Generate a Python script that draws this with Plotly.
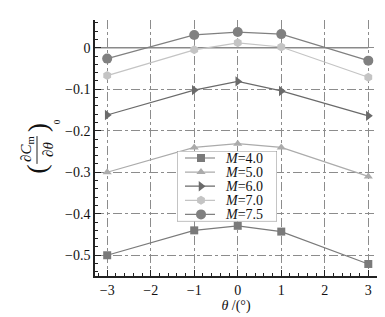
import plotly.graph_objects as go

theta = [-3, -1, 0, 1, 3]
m_labels = ["4.0", "5.0", "6.0", "7.0", "7.5"]
cm_m40 = [-0.500, -0.440, -0.429, -0.443, -0.521]
cm_m50 = [-0.300, -0.240, -0.231, -0.240, -0.310]
cm_m60 = [-0.162, -0.102, -0.081, -0.104, -0.164]
cm_m70 = [-0.067, -0.005, 0.012, 0.002, -0.071]
cm_m75 = [-0.026, 0.031, 0.038, 0.033, -0.031]
y_tickvals = [0, -0.1, -0.2, -0.3, -0.4, -0.5]
y_ticktext = ["0", "−0.1", "−0.2", "−0.3", "−0.4", "−0.5"]
x_tickvals = [-3, -2, -1, 0, 1, 2, 3]

series = [cm_m40, cm_m50, cm_m60, cm_m70, cm_m75]
symbols = ["square", "triangle-up", "triangle-right", "hexagon", "circle"]
colors = ["#7a7a7a", "#ababab", "#6a6a6a", "#c4c4c4", "#808080"]
sizes = [8, 8, 9, 9, 10]

FONT = "Liberation Serif"
W, H = 377, 309          # page body has an 8px margin
ML, MR, MT, MB = 87, 8, 12, 39
PW, PH = W - ML - MR, H - MT - MB

fig = go.Figure()

# zero reference line (from axis to theta=3)
fig.add_trace(go.Scatter(x=[-3.28, 3], y=[0, 0], mode="lines",
                         line=dict(color="#8a8a8a", width=1.6),
                         showlegend=False, hoverinfo="skip"))

for lab, vals, sym, col, sz in zip(m_labels, series, symbols, colors, sizes):
    fig.add_trace(go.Scatter(
        x=theta, y=vals, mode="lines+markers",
        name=f"<i>M</i>={lab}", showlegend=False,
        line=dict(color=col, width=1.2),
        marker=dict(symbol=sym, size=sz, color=col, line=dict(width=0)),
    ))

grid = dict(showgrid=True, gridcolor="#8c8c8c", gridwidth=1, griddash="dashdot")

# legend box drawn on its own small overlay axes
leg_x0, leg_x1 = (177 - 95) / 282, (277 - 95) / 282
leg_y1, leg_y0 = 1 - (152 - 20) / 258, 1 - (223 - 20) / 258

fig.update_layout(
    width=W, height=H,
    margin=dict(l=ML, r=MR, t=MT, b=MB),
    paper_bgcolor="white", plot_bgcolor="white",
    font=dict(family=FONT, size=14, color="#111"),
    showlegend=False,
    xaxis=dict(range=[-3.28, 3.2], tickmode="array", tickvals=x_tickvals,
               ticks="inside", ticklen=6, tickcolor="#222",
               showline=True, linecolor="#222", linewidth=1.5,
               zeroline=False,
               minor=dict(dtick=0.2, ticks="inside", ticklen=3, tickcolor="#222", showgrid=False),
               title=dict(text="<i>θ</i> /(°)", font=dict(family=FONT, size=14), standoff=2),
               **grid),
    yaxis=dict(range=[-0.55, 0.067], tickmode="array",
               tickvals=y_tickvals, ticktext=y_ticktext,
               ticks="inside", ticklen=6, tickcolor="#222",
               showline=True, linecolor="#222", linewidth=1.5,
               zeroline=False,
               minor=dict(dtick=0.02, ticks="inside", ticklen=3, tickcolor="#222", showgrid=False),
               **grid),
    xaxis2=dict(domain=[leg_x0, leg_x1], range=[0, 1], anchor="y2", visible=False,
                fixedrange=True),
    yaxis2=dict(domain=[leg_y0, leg_y1], range=[4.5, -0.5], anchor="x2", visible=False,
                fixedrange=True),
)

fig.add_shape(type="rect", xref="x2", yref="y2", x0=0, x1=1, y0=-0.5, y1=4.5,
              fillcolor="white", line=dict(color="#8a8a8a", width=1), layer="below")

for i, (lab, sym, col, sz) in enumerate(zip(m_labels, symbols, colors, sizes)):
    fig.add_trace(go.Scatter(x=[0.08, 0.38], y=[i, i], mode="lines", xaxis="x2", yaxis="y2",
                             line=dict(color=col, width=1.2), showlegend=False, hoverinfo="skip"))
    fig.add_trace(go.Scatter(x=[0.24], y=[i], mode="markers", xaxis="x2", yaxis="y2",
                             marker=dict(symbol=sym, size=sz, color=col, line=dict(width=0)),
                             showlegend=False, hoverinfo="skip"))
    fig.add_annotation(text=f"<i>M</i>={lab}",
                       x=0.46, y=i, xref="x2", yref="y2", showarrow=False,
                       xanchor="left", yanchor="middle",
                       font=dict(family=FONT, size=14, color="#111"))

# y-axis label built from pieces (rotated fraction)
def px2paper(xp, yp):
    return (xp - 95) / PW, 1 - (yp - 20) / PH

annots = [
    ("∂<i>C</i><sub>m</sub>", 27, 150, 15),
    ("∂<i>θ</i>", 48, 151, 15),
    ("(", 37, 171, 28),
    (")", 37, 129, 28),
    ("0", 57, 123, 9),
]
for txt, xp, yp, fs in annots:
    xx, yy = px2paper(xp, yp)
    fig.add_annotation(text=txt, x=xx, y=yy, xref="paper", yref="paper",
                       showarrow=False, textangle=-90,
                       font=dict(family=FONT, size=fs, color="#111"),
                       xanchor="center", yanchor="middle")
x0, y0 = px2paper(37, 137)
x1, y1 = px2paper(37, 165)
fig.add_shape(type="line", xref="paper", yref="paper", x0=x0, x1=x1, y0=y0, y1=y1,
              line=dict(color="#222", width=1))

fig.write_html("out.html")
